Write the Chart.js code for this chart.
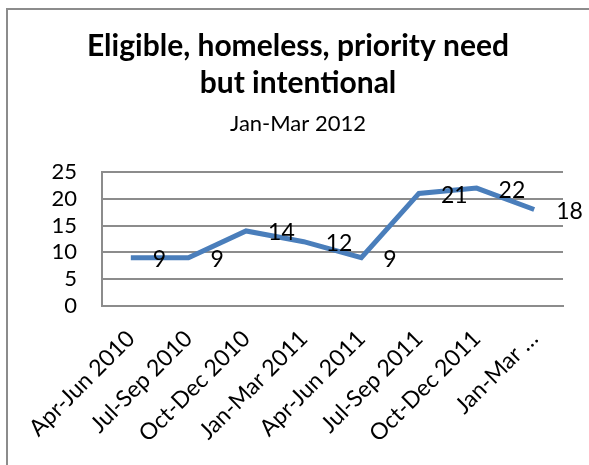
<!DOCTYPE html>
<html>
<head>
<meta charset="utf-8">
<script src="https://cdn.jsdelivr.net/npm/chart.js@4.4.1/dist/chart.umd.min.js"></script>
<style>
  html, body { margin: 0; padding: 0; background: #fff; }
  #wrap { position: relative; width: 589px; height: 465px; overflow: hidden; }
  /* chart frame, only its top and left edges fall inside the window */
  #frame { position: absolute; left: 6px; top: 8px; width: 700px; height: 600px;
           border-left: 2px solid #8c8c8c; border-top: 2px solid #8c8c8c; box-sizing: border-box; }
  #chart { position: absolute; left: 0; top: 0; }
</style>
</head>
<body>
<div id="wrap">
  <div id="frame"></div>
  <canvas id="chart" width="589" height="465"></canvas>
</div>
<script>
// quarterly counts
const quarters = ['Apr-Jun 2010', 'Jul-Sep 2010', 'Oct-Dec 2010', 'Jan-Mar 2011',
                  'Apr-Jun 2011', 'Jul-Sep 2011', 'Oct-Dec 2011', 'Jan-Mar 2012'];
const counts = [9, 9, 14, 12, 9, 21, 22, 18];
const yStep = 5;
const yMax = 25;

const FONT = 'Lato, "Open Sans", sans-serif';

// value labels to the right of each point
const valueLabels = {
    id: 'valueLabels',
    afterDatasetsDraw(chart) {
        const ctx = chart.ctx;
        const meta = chart.getDatasetMeta(0);
        ctx.save();
        ctx.font = '23px ' + FONT;
        ctx.fillStyle = '#000';
        ctx.textAlign = 'left';
        ctx.textBaseline = 'middle';
        meta.data.forEach((pt, i) => {
            ctx.fillText(String(counts[i]), pt.x + 22, pt.y + 2);
        });
        ctx.restore();
    }
};

new Chart(document.getElementById('chart'), {
    type: 'line',
    data: {
        labels: quarters,
        datasets: [{
            data: counts,
            borderColor: '#4a7ebb',
            borderWidth: 5,
            pointRadius: 0,
            tension: 0,
            fill: false
        }]
    },
    options: {
        responsive: false,
        animation: false,
        layout: { padding: { top: 27, right: 26, left: 33, bottom: 0 } },
        plugins: {
            legend: { display: false },
            tooltip: { enabled: false },
            title: {
                display: true,
                text: ['Eligible, homeless, priority need', 'but intentional'],
                color: '#000',
                font: { family: FONT, size: 30, weight: 'bold', lineHeight: 1.26 },
                padding: { top: 0, bottom: 8 }
            },
            subtitle: {
                display: true,
                text: 'Jan-Mar 2012',
                color: '#000',
                font: { family: FONT, size: 22, lineHeight: 1.2 },
                padding: { top: 0, bottom: 35 }
            }
        },
        scales: {
            x: {
                offset: true,
                grid: { display: false, drawTicks: false },
                border: { color: '#8c8c8c', width: 2 },
                ticks: {
                    color: '#000',
                    font: { family: FONT, size: 23 },
                    minRotation: 45,
                    maxRotation: 45,
                    autoSkip: false,
                    padding: 19,
                    // the last category is cut short for lack of room
                    callback: (v, i) => i === quarters.length - 1 ? quarters[i].split(' ')[0] + ' …' : quarters[i]
                },
                afterFit: (scale) => { scale.height = 159; }
            },
            y: {
                min: 0,
                max: yMax,
                grid: { color: '#8c8c8c', lineWidth: 2, drawTicks: false },
                border: { color: '#8c8c8c', width: 2 },
                ticks: { color: '#000', font: { family: FONT, size: 22 }, padding: 25, stepSize: yStep, autoSkip: false },
                afterFit: (scale) => { scale.width = 69; }
            }
        }
    },
    plugins: [valueLabels]
});
</script>
</body>
</html>
